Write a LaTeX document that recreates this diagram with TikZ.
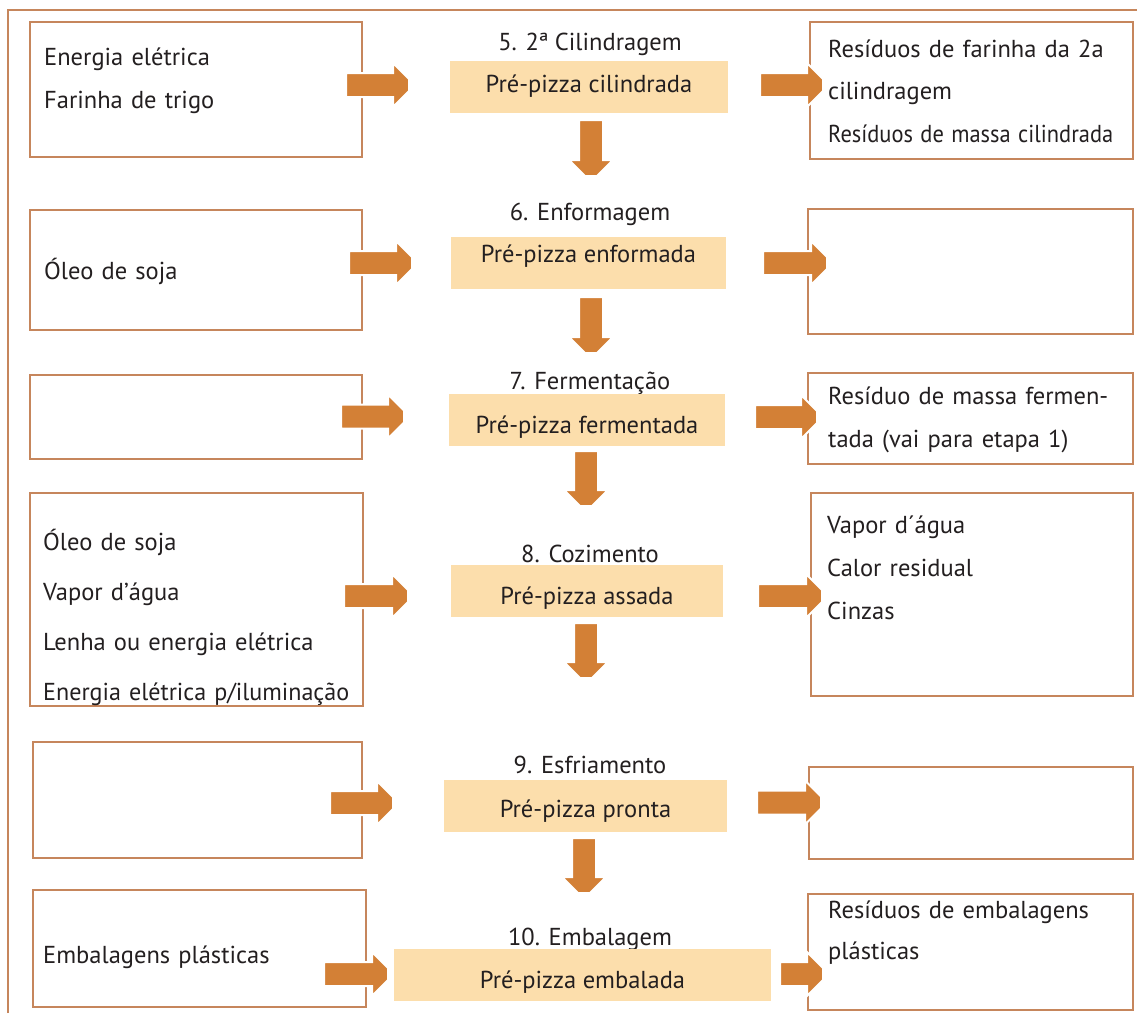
\documentclass[tikz,border=0pt]{standalone}
\usepackage{fontspec}
\usepackage{graphicx}
\setmainfont{PT Sans}
\definecolor{framec}{RGB}{198,134,92}
\definecolor{arrowc}{RGB}{211,128,54}
\definecolor{stagec}{RGB}{252,222,172}
\definecolor{textc}{RGB}{35,31,32}
\tikzset{fat arrow/.pic={
    \filldraw[fill=arrowc, draw=white, line width=2pt, line join=miter]
        (0,-12) -- (#1-16,-12) -- (#1-16,-22) -- (#1,-6) -- (#1,6)
        -- (#1-16,22) -- (#1-16,12) -- (0,12) -- cycle;
}}

\begin{document}
\begin{tikzpicture}[
        x=1pt, y=-1pt,
        every node/.style={text=textc, font=\fontsize{24.5}{43}\selectfont},
        box/.style={draw=framec, line width=2pt, fill=white, inner sep=0pt},
        stage/.style={fill=stagec, anchor=base, inner sep=0pt},
        title/.style={anchor=base, inner sep=0pt},
        txt/.style={anchor=base west, inner sep=0pt, text width=340pt, align=left},
    ]
    \useasboundingbox (0,0) rectangle (1137,1013);

    % outer frame
    \draw[framec, line width=2pt] (8,1013) |- (1137,10);

    % input boxes
    \node[box, minimum width=332pt, minimum height=135pt] (in5) at (196,89.5) {};
    \node[box, minimum width=332pt, minimum height=120pt] (in6) at (196,270) {};
    \node[box, minimum width=332pt, minimum height=84pt] (in7) at (196,417) {};
    \node[box, minimum width=333pt, minimum height=213pt] (in8) at (196.5,599.5) {};
    \node[box, minimum width=329pt, minimum height=116pt] (in9) at (197.5,800) {};
    \node[box, minimum width=333pt, minimum height=117pt] (in10) at (199.5,948.5) {};

    % output boxes
    \node[box, minimum width=323pt, minimum height=137pt] (out5) at (971.5,90.5) {};
    \node[box, minimum width=325pt, minimum height=125pt] (out6) at (970.5,271.5) {};
    \node[box, minimum width=325pt, minimum height=91pt] (out7) at (970.5,418.5) {};
    \node[box, minimum width=322pt, minimum height=203pt] (out8) at (972,594.5) {};
    \node[box, minimum width=324pt, minimum height=92pt] (out9) at (971,813) {};
    \node[box, minimum width=325pt, minimum height=116pt] (out10) at (970.5,952) {};

    % box texts
    \node[txt] (in5t) at (44,65) {Energia elétrica\\Farinha de trigo};
    \node[txt] (in6t) at (44,279) {Óleo de soja};
    \node[txt, font=\fontsize{24.5}{50.3}\selectfont] (in8t) at (43,550)
        {Óleo de soja\\Vapor d’água\\Lenha ou energia elétrica\\
         \resizebox{306pt}{\height}{Energia elétrica p/iluminação}};
    \node[txt] (in10t) at (43,963) {Embalagens plásticas};
    \node[txt, font=\fontsize{24.5}{42.5}\selectfont] (out5t) at (828,57)
        {\makebox[291pt][s]{Resíduos de farinha da 2a}\\cilindragem\\
         \resizebox{285pt}{\height}{Resíduos de massa cilindrada}};
    \node[txt] (out7t) at (828,404)
        {\makebox[290pt][s]{Resíduo de massa fermen-}\\tada (vai para etapa 1)};
    \node[txt] (out8t) at (827,533) {Vapor d´água\\Calor residual\\Cinzas};
    \node[txt, font=\fontsize{24.5}{41}\selectfont] (out10t) at (828,918)
        {\makebox[291pt][s]{Resíduos de embalagens}\\plásticas};

    % stages
    \node[title] (t5) at (590,50) {5. 2ª Cilindragem};
    \node[stage, minimum width=278pt, text height=31pt, text depth=21pt] (st5) at (589,92) {Pré-pizza cilindrada};
    \node[title] (t6) at (590,220) {6. Enformagem};
    \node[stage, minimum width=275pt, text height=25pt, text depth=27pt] (st6) at (588.5,262) {Pré-pizza enformada};
    \node[title] (t7) at (590,389) {7. Fermentação};
    \node[stage, minimum width=276pt, text height=39pt, text depth=13pt] (st7) at (587,433) {Pré-pizza fermentada};
    \node[title] (t8) at (590,562) {8. Cozimento};
    \node[stage, minimum width=272pt, text height=39pt, text depth=13pt] (st8) at (587,604) {Pré-pizza assada};
    \node[title] (t9) at (590,773) {9. Esfriamento};
    \node[stage, minimum width=283pt, text height=37pt, text depth=15pt] (st9) at (585.5,817) {Pré-pizza pronta};
    \node[title] (t10) at (590,945) {10. Embalagem};
    \node[stage, minimum width=377pt, text height=39pt, text depth=13pt] (st10) at (582.5,988) {Pré-pizza embalada};

    % arrows
    \pic (ain5) at (346,85) {fat arrow=63};
    \pic (aout5) at (760,85) {fat arrow=63};
    \pic[rotate=-90] (adown5) at (591,120) {fat arrow=56};
    \pic (ain6) at (349,263) {fat arrow=63};
    \pic (aout6) at (763,263) {fat arrow=64};
    \pic[rotate=-90] (adown6) at (591,297) {fat arrow=56};
    \pic (ain7) at (341,416.5) {fat arrow=63};
    \pic (aout7) at (755,417) {fat arrow=62};
    \pic[rotate=-90] (adown7) at (586,451) {fat arrow=55};
    \pic (ain8) at (344,596) {fat arrow=64};
    \pic (aout8) at (758,596) {fat arrow=64};
    \pic[rotate=-90] (adown8) at (586,623) {fat arrow=55};
    \pic (ain9) at (330,803) {fat arrow=63};
    \pic (aout9) at (757,802.5) {fat arrow=64};
    \pic[rotate=-90] (adown9) at (584,838) {fat arrow=55};
    \pic (ain10) at (324,974) {fat arrow=64};
    \pic (aout10) at (780,974) {fat arrow=43};
\end{tikzpicture}
\end{document}
